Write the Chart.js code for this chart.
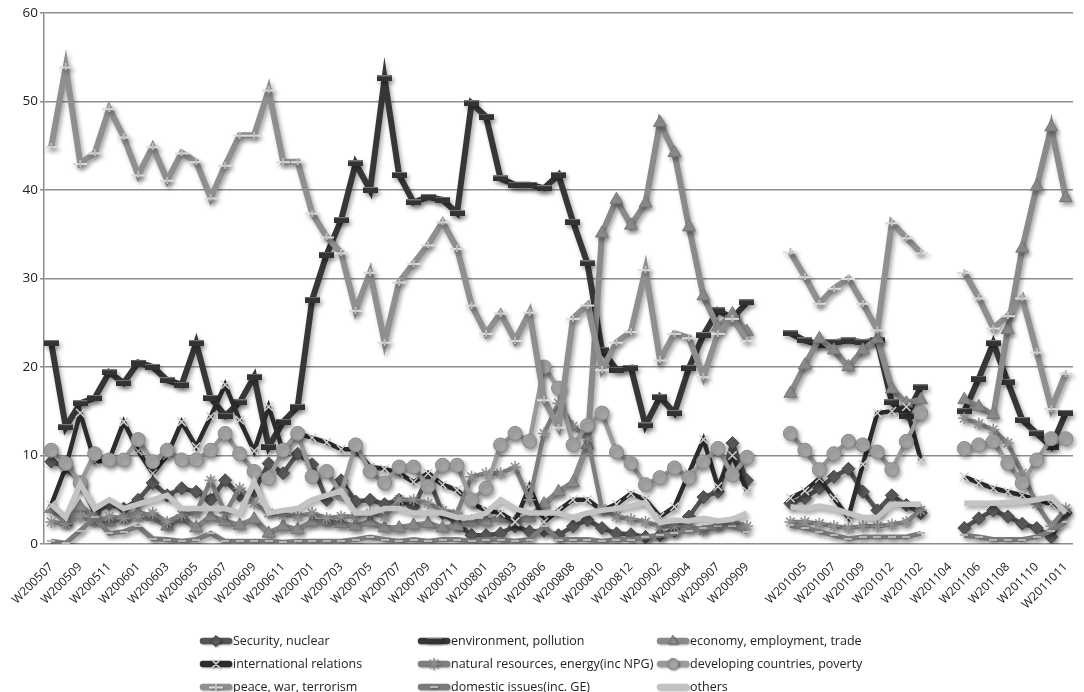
<!DOCTYPE html>
<html>
<head>
<meta charset="utf-8">
<style>
  html, body { margin: 0; padding: 0; background: #fff; }
  #wrap { width: 1084px; height: 692px; }
</style>
<script src="https://cdn.jsdelivr.net/npm/chart.js@4.4.1/dist/chart.umd.min.js"></script>
</head>
<body>
<div id="wrap"><canvas id="chart" width="1084" height="692"></canvas></div>
<script>
// categories (every other one gets a label on the axis)
const weeks = [
  "W200507","W200508","W200509","W200510","W200511","W200512","W200601","W200602","W200603","W200604",
  "W200605","W200606","W200607","W200608","W200609","W200610","W200611","W200612","W200701","W200702",
  "W200703","W200704","W200705","W200706","W200707","W200708","W200709","W200710","W200711","W200712",
  "W200801","W200802","W200803","W200804","W200806","W200807","W200808","W200809","W200810","W200811",
  "W200812","W200901","W200902","W200903","W200904","W200906","W200907","W200908","W200909","",
  "","W201004","W201005","W201006","W201007","W201008","W201009","W201010","W201012","W201101",
  "W201102","W201103","W201104","W201105","W201106","W201107","W201108","W201109","W201110","W201111",
  "W2011011"
];

const security = [
  9.3, 8.7, 7.0, 3.5, 4.5, 4.0, 5.0, 6.9, 5.5, 6.3, 5.9, 5.0, 7.2, 5.5, 5.9, 9.1, 8.0, 10.2, 9.0, 5.0,
  7.2, 4.8, 5.0, 4.5, 5.0, 4.2, 7.6, 3.5, 2.3, 1.0, 1.0, 1.2, 2.0, 1.4, 1.5, 1.0, 2.0, 2.7, 1.8, 1.2,
  1.1, 0.8, 1.0, 1.5, 3.1, 5.3, 5.9, 11.4, 7.2, null,
  null, 4.6, 5.2, 6.3, 7.6, 8.5, 5.9, 3.8, 5.5, 4.4, 3.5, null, null,
  1.8, 2.9, 3.8, 3.1, 2.3, 1.8, 0.8, 3.5
];
const environment = [
  22.7, 13.2, 15.9, 16.5, 19.4, 18.2, 20.5, 20.0, 18.5, 18.0, 22.7, 16.5, 14.5, 16.0, 18.9, 11.0, 13.8, 15.5, 27.6, 32.7,
  36.6, 43.0, 40.0, 52.6, 41.7, 38.6, 39.2, 38.9, 37.4, 49.8, 48.3, 41.3, 40.6, 40.6, 40.2, 41.7, 36.4, 31.7, 21.9, 19.7,
  19.9, 13.4, 16.6, 14.8, 19.9, 23.6, 26.4, 25.5, 27.3, null,
  null, 23.8, 23.0, 22.5, 22.8, 23.0, 22.8, 23.0, 16.0, 14.5, 17.7, null, null,
  15.0, 18.7, 22.7, 18.3, 14.0, 12.5, 11.0, 14.8
];
const economy = [
  4.0, 2.5, 4.2, 3.0, 2.5, 3.0, 3.5, 3.1, 2.0, 3.0, 1.8, 3.1, 2.5, 2.1, 2.8, 1.2, 2.0, 1.6, 2.5, 2.5,
  2.3, 2.0, 2.5, 1.8, 1.8, 2.1, 2.3, 1.8, 2.0, 2.5, 2.5, 3.0, 2.5, 3.0, 4.5, 5.9, 6.9, 11.2, 35.1, 38.9,
  36.0, 38.5, 47.6, 44.2, 35.8, 28.0, 24.5, 26.0, 24.0, null,
  null, 17.0, 20.2, 23.2, 21.9, 20.0, 21.9, 23.2, 17.5, 15.9, 16.3, null, null,
  16.3, 15.5, 14.6, 24.2, 33.4, 40.4, 47.1, 39.1
];
const international = [
  4.4, 8.7, 14.8, 9.3, 9.5, 13.8, 10.5, 8.0, 10.0, 13.8, 11.0, 14.4, 18.0, 14.0, 10.5, 15.5, 10.5, 12.5, 12.0, 11.5,
  10.7, 10.7, 8.7, 8.5, 8.0, 7.0, 8.0, 6.7, 6.1, 4.6, 3.8, 3.5, 2.5, 6.5, 2.5, 3.8, 5.0, 5.0, 3.8, 4.5,
  5.7, 5.0, 3.1, 4.2, 8.0, 11.8, 6.5, 10.0, 6.0, null,
  null, 5.2, 6.0, 7.4, 5.2, 3.0, 9.0, 14.8, 15.0, 15.5, 9.5, null, null,
  7.6, 6.9, 6.3, 5.9, 5.5, 5.0, 4.5, 4.0
];
const resources = [
  2.5, 2.3, 3.1, 2.5, 3.1, 2.9, 3.1, 3.5, 2.5, 3.3, 3.5, 7.2, 3.5, 6.3, 4.6, 3.5, 3.3, 3.1, 3.5, 2.9,
  3.1, 3.1, 3.5, 3.1, 5.0, 5.0, 4.6, 3.8, 3.5, 7.6, 8.0, 8.0, 8.7, 5.0, 12.5, 15.9, 13.3, 12.0, 4.0, 3.1,
  2.8, 2.5, 2.0, 2.0, 2.0, 1.5, 2.0, 2.5, 2.0, null,
  null, 2.5, 2.5, 2.3, 2.0, 1.8, 2.0, 2.0, 2.2, 2.5, 3.8, null, null,
  14.2, 13.6, 12.9, 11.4, 8.0, 4.5, 2.0, 4.0
];
const developing = [
  10.6, 9.1, 6.9, 10.2, 9.5, 9.5, 11.8, 9.3, 10.6, 9.5, 9.5, 10.6, 12.5, 10.2, 8.2, 7.4, 10.6, 12.5, 7.6, 8.2,
  5.7, 11.2, 8.2, 6.9, 8.7, 8.7, 6.5, 8.9, 8.9, 5.0, 6.3, 11.2, 12.5, 11.6, 20.0, 17.6, 11.2, 13.4, 14.8, 10.4,
  9.1, 6.7, 7.5, 8.6, 7.5, 9.3, 10.8, 7.8, 9.8, null,
  null, 12.5, 10.6, 8.4, 10.2, 11.6, 11.2, 10.4, 8.4, 11.6, 14.8, null, null,
  10.8, 11.2, 11.6, 9.1, 6.9, 9.5, 11.9, 11.9
];
const peace = [
  44.9, 53.9, 43.0, 44.2, 49.2, 46.0, 41.7, 44.9, 41.1, 44.2, 43.2, 39.1, 42.8, 46.2, 46.2, 51.3, 43.2, 43.2, 37.4, 34.7,
  32.9, 26.4, 30.7, 22.8, 29.6, 31.7, 33.8, 36.4, 33.4, 27.0, 23.8, 26.1, 23.0, 26.2, 16.3, 13.2, 25.5, 27.0, 19.7, 22.8,
  24.0, 31.0, 20.8, 23.8, 23.3, 18.9, 23.8, 25.5, 23.0, null,
  null, 33.0, 30.2, 27.2, 28.9, 30.0, 27.2, 24.2, 36.3, 34.6, 32.9, null, null,
  30.7, 27.8, 24.4, 25.8, 27.8, 21.7, 15.3, 19.3
];
const domestic = [
  0.3, 0.1, 1.5, 3.0, 1.2, 1.4, 2.0, 0.6, 0.5, 0.3, 0.5, 1.2, 0.3, 0.3, 0.3, 0.3, 0.2, 0.3, 0.3, 0.3,
  0.3, 0.5, 0.8, 0.5, 0.3, 0.5, 0.3, 0.5, 0.5, 0.3, 0.5, 0.5, 0.3, 0.5, 2.0, 0.5, 0.5, 0.5, 0.3, 0.5,
  0.5, 0.8, 1.0, 1.2, 1.5, 1.8, 2.0, 2.0, 1.4, null,
  null, 2.1, 1.8, 1.4, 1.0, 0.6, 0.8, 0.8, 0.8, 0.8, 1.2, null, null,
  1.0, 0.8, 0.5, 0.5, 0.5, 0.8, 1.5, 2.5
];
const others = [
  4.5, 3.0, 6.8, 4.0, 5.0, 4.0, 4.5, 5.0, 5.5, 4.0, 4.0, 4.0, 4.0, 3.5, 7.0, 3.5, 3.8, 4.0, 5.0, 5.5,
  6.0, 3.5, 3.5, 4.0, 4.0, 3.5, 3.5, 3.5, 3.0, 3.0, 3.5, 5.0, 4.0, 3.5, 3.5, 3.5, 3.0, 3.5, 3.8, 4.0,
  4.3, 4.7, 2.4, 2.7, 2.6, 2.9, 2.6, 2.8, 3.5, null,
  null, 4.2, 4.0, 4.3, 4.0, 3.5, 3.0, 3.0, 4.5, 4.5, 4.5, null, null,
  4.6, 4.6, 4.6, 4.7, 4.8, 5.0, 5.3, 3.5
];

const yTicks = [0, 10, 20, 30, 40, 50, 60];

// small bitmap markers for the flat "bar" and "dash" styles
function barMark(w, h, fill, edge) {
  const c = document.createElement("canvas");
  c.width = w; c.height = h;
  const g = c.getContext("2d");
  g.fillStyle = fill;
  g.fillRect(0, 0, w, h);
  g.fillStyle = edge;
  g.fillRect(0, 0, w, 1);
  return c;
}
function plusMark() {
  const c = document.createElement("canvas");
  c.width = 14; c.height = 7;
  const g = c.getContext("2d");
  g.fillStyle = "#dcdcdc";
  g.fillRect(0, 3, 14, 2);
  g.fillStyle = "#bdbdbd";
  g.fillRect(6, 0, 2, 7);
  return c;
}

const envMark = barMark(15, 6, "#333", "#777");
const peaceMark = plusMark();
const domMark = barMark(8, 2, "#b5b5b5", "#b5b5b5");

function series(label, data, color, width, style, radius, fill, border, bw) {
  return {
    label, data,
    borderColor: color,
    borderWidth: width,
    pointStyle: style,
    pointRadius: radius,
    pointBackgroundColor: fill,
    pointBorderColor: border,
    pointBorderWidth: bw,
    tension: 0,
    spanGaps: false,
    fill: false
  };
}

const datasets = [
  series("Security, nuclear", security, "#545454", 4.5, "rectRot", 6.5, "#5a5a5a", "#444", 1),
  series("environment, pollution", environment, "#363636", 6, envMark, 7, "#333", "#333", 0),
  series("economy, employment, trade", economy, "#8a8a8a", 6, "triangle", 7.5, "#909090", "#777", 1),
  series("international relations", international, "#2c2c2c", 4.5, "crossRot", 6, "#ccc", "#cfcfcf", 1.5),
  series("natural resources, energy(inc NPG)", resources, "#7e7e7e", 4.5, "star", 6, "#aaa", "#8f8f8f", 1.5),
  series("developing countries, poverty", developing, "#9a9a9a", 4.5, "circle", 7, "#a4a4a4", "#8a8a8a", 1),
  series("peace, war, terrorism", peace, "#8f8f8f", 6, peaceMark, 7, "#ddd", "#ddd", 0),
  series("domestic issues(inc. GE)", domestic, "#7a7a7a", 5, domMark, 4, "#b5b5b5", "#b5b5b5", 0),
  series("others", others, "#c3c3c3", 5.5, "circle", 0, "#c3c3c3", "#c3c3c3", 0)
];
// Excel puts later series on top
datasets.forEach((d, i) => { d.order = datasets.length - i; });

const shadowPlugin = {
  id: "shadow",
  beforeDatasetDraw(chart) {
    const c = chart.ctx;
    c.save();
    c.shadowColor = "rgba(0,0,0,0.35)";
    c.shadowBlur = 4;
    c.shadowOffsetX = 2;
    c.shadowOffsetY = 3;
  },
  afterDatasetDraw(chart) {
    chart.ctx.restore();
  }
};

// three-column legend under the axis labels
const legendCols = [200, 418, 657];
const legendRows = [641, 664, 687];
const gridLegend = {
  id: "gridLegend",
  afterDraw(chart) {
    const c = chart.ctx;
    chart.data.datasets.forEach((ds, i) => {
      const x = legendCols[i % 3];
      const y = legendRows[Math.floor(i / 3)];
      c.save();
      c.shadowColor = "rgba(0,0,0,0.3)";
      c.shadowBlur = 2;
      c.shadowOffsetX = 1;
      c.shadowOffsetY = 1;
      c.strokeStyle = ds.borderColor;
      c.lineWidth = 6.5;
      c.lineCap = "round";
      c.beginPath();
      c.moveTo(x + 3, y);
      c.lineTo(x + 29, y);
      c.stroke();
      if (ds.pointRadius > 0) {
        c.fillStyle = ds.pointBackgroundColor;
        c.strokeStyle = ds.pointBorderColor;
        c.lineWidth = ds.pointBorderWidth;
        Chart.helpers.drawPoint(c, {
          pointStyle: ds.pointStyle,
          radius: Math.min(ds.pointRadius, 5.5),
          rotation: 0,
          borderWidth: ds.pointBorderWidth
        }, x + 16, y);
      }
      c.restore();
      c.fillStyle = "#222";
      c.font = "12.5px 'Open Sans'";
      c.textBaseline = "middle";
      c.textAlign = "left";
      c.fillText(ds.label, x + 33, y);
    });
  }
};

new Chart(document.getElementById("chart"), {
  type: "line",
  data: { labels: weeks, datasets },
  options: {
    responsive: false,
    animation: false,
    devicePixelRatio: 1,
    layout: { padding: { top: 13, right: 0, left: 0, bottom: 0 } },
    plugins: { legend: { display: false }, tooltip: { enabled: false } },
    elements: { point: { hoverRadius: 0 } },
    scales: {
      x: {
        offset: true,
        grid: { display: false },
        border: { display: false },
        ticks: {
          autoSkip: false,
          minRotation: 45,
          maxRotation: 45,
          padding: 8,
          color: "#222",
          font: { family: "'Open Sans'", size: 12 },
          callback(v, i) { return i % 2 === 0 ? weeks[i] : ""; }
        },
        afterFit(s) { s.height = 148; }
      },
      y: {
        min: yTicks[0],
        max: yTicks[yTicks.length - 1],
        grid: { color: "#8d8d8d", lineWidth: 1.5, tickLength: 4 },
        border: { color: "#8d8d8d", width: 1.5 },
        ticks: {
          stepSize: 10,
          padding: 2,
          color: "#222",
          font: { family: "'Open Sans'", size: 13.5 }
        },
        afterFit(s) { s.width = 44; }
      }
    }
  },
  plugins: [shadowPlugin, gridLegend]
});
</script>
</body>
</html>
